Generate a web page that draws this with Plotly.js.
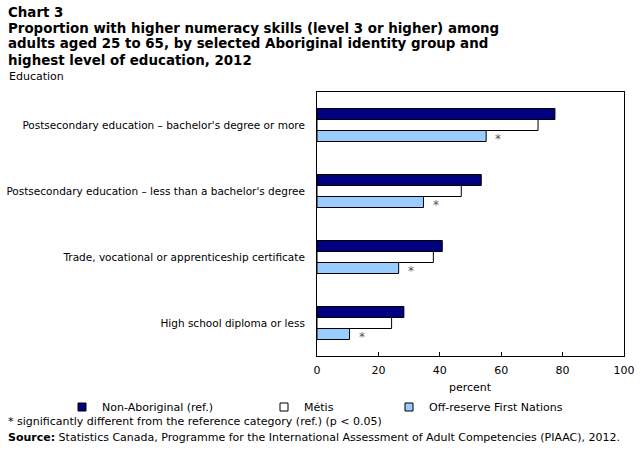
<!DOCTYPE html>
<html><head><meta charset="utf-8">
<script src="https://cdn.plot.ly/plotly-3.0.1.min.js"></script>
<style>body{margin:0;background:#fff}#c{width:643px;height:454px}</style>
</head><body><div id="c"></div>
<script>
const categories = [
  "Postsecondary education \u2013 bachelor's degree or more",
  "Postsecondary education \u2013 less than a bachelor's degree",
  "Trade, vocational or apprenticeship certificate",
  "High school diploma or less"
];
const nonAboriginal = [77.5, 53.5, 40.8, 28.3];
const metis = [72.0, 47.0, 37.9, 24.3];
const offReserve = [55.1, 34.7, 26.6, 10.6];
const offReserveSig = [true, true, true, true];
const seriesNames = ["Non-Aboriginal (ref.)", "M\u00e9tis", "Off-reserve First Nations"];
const seriesColors = ['#000080', '#ffffff', '#99ccff'];
const xTicks = [0, 20, 40, 60, 80, 100];
const titleLines = [
  "Proportion with higher numeracy skills (level 3 or higher) among",
  "adults aged 25 to 65, by selected Aboriginal identity group and",
  "highest level of education, 2012"
];

const F = "DejaVu Sans, Verdana, sans-serif";
const line = {color: '#000', width: 1};
const series = [nonAboriginal, metis, offReserve];
const traces = series.map((vals, i) => ({
  type:'bar', orientation:'h', name: seriesNames[i], y: categories, x: vals,
  marker:{color: seriesColors[i], line}, showlegend:false
}));
const legNames = ['legend', 'legend2', 'legend3'];
series.forEach((vals, i) => traces.push({
  type:'scatter', mode:'markers', name: seriesNames[i], x:[null], y:[null],
  marker:{symbol:'square', size:8, color: seriesColors[i], line:{color:'#000', width:1}},
  showlegend:true, legend: legNames[i], hoverinfo:'skip'
}));

const ann = [];
categories.forEach((c, i) => {
  if (offReserveSig[i]) ann.push({x: offReserve[i], y: c, yshift: -14, xshift: 12, text: '*', showarrow: false, xanchor: 'center', font: {family: F, size: 12, color: '#555'}});
});
const paperText = (x, y, text, opts) => Object.assign({xref:'paper', yref:'paper', x, y, text, showarrow:false, xanchor:'left', yanchor:'middle', align:'left', font:{family:F, size:11, color:'#000'}}, opts||{});
const W = 643, H = 454, ml = 317, mr = 19, mt = 92, mb = 98;
const px = x => (x - ml) / (W - ml - mr);
const py = y => (H - mb - y) / (H - mt - mb);
const TFont = {family:F, size:13.4, color:'#000'};
ann.push(paperText(px(6), py(12), '<b>Chart 3</b>', {font:TFont}));
titleLines.forEach((t, i) => ann.push(paperText(px(6), py(28 + 16 * i), '<b>' + t + '</b>', {font:TFont})));
ann.push(paperText(px(7), py(77), 'Education'));
ann.push(paperText(0.5, py(387), 'percent', {xanchor:'center'}));
ann.push(paperText(px(6), py(421), '* significantly different from the reference category (ref.) (p < 0.05)'));
ann.push(paperText(px(6), py(437), '<b>Source:</b> Statistics Canada, Programme for the International Assessment of Adult Competencies (PIAAC), 2012.'));

const lg = (x) => ({orientation:'h', x: px(x), y: py(407), xanchor:'left', yanchor:'middle', font:{family:F, size:11, color:'#000'}, bgcolor:'rgba(0,0,0,0)', itemwidth:30, tracegroupgap:0});
const layout = {
  width: W, height: H,
  margin: {l: ml, r: mr, t: mt, b: mb, pad: 0},
  paper_bgcolor: '#fff', plot_bgcolor: '#fff',
  barmode: 'group', bargap: 0.5, bargroupgap: 0,
  showlegend: true,
  legend: lg(62), legend2: lg(264), legend3: lg(389),
  xaxis: {range: [0, 100], tickvals: xTicks, ticktext: xTicks.map(String), ticks: 'inside', ticklen: 4, tickcolor: '#000', showline: true, linecolor: '#000', linewidth: 1, mirror: true, showgrid: false, zeroline: false, tickfont: {family: F, size: 11, color: '#000'}, ticklabelstandoff: 4, fixedrange: true},
  yaxis: {autorange: 'reversed', type: 'category', ticks: '', showline: true, linecolor: '#000', linewidth: 1, mirror: true, showgrid: false, tickfont: {family: F, size: 10.5, color: '#000'}, ticklabelstandoff: 9},
  annotations: ann,
  font: {family: F, size: 11, color: '#000'}
};
Plotly.newPlot('c', traces, layout, {displayModeBar: false, staticPlot: true});
</script></body></html>
